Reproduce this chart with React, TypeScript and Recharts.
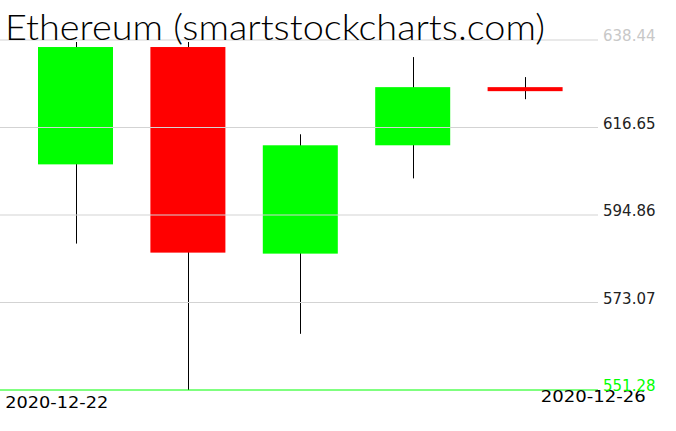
import { ComposedChart, Bar, XAxis, YAxis, ReferenceLine } from "recharts";

const dates = ["2020-12-22", "2020-12-23", "2020-12-24", "2020-12-25", "2020-12-26"];
const opens = [607.47, 636.69, 585.24, 612.22, 626.7];
const highs = [637.94, 637.94, 614.96, 634.19, 629.2];
const lows = [587.74, 551.28, 565.27, 603.98, 623.7];
const closes = [636.69, 585.49, 612.22, 626.7, 625.7];
const yTicks = [551.28, 573.07, 594.86, 616.65, 638.44];

const data = dates.map((d, i) => ({
  date: d,
  open: opens[i],
  high: highs[i],
  low: lows[i],
  close: closes[i],
  range: [lows[i], highs[i]],
}));

const W = 676;
const H = 431;

function Candle(props: any) {
  const { x, y, width, height, payload } = props;
  const top = Math.min(y, y + height);
  const h = Math.abs(height);
  const span = payload.high - payload.low;
  const k = span > 0 ? h / span : 0;
  const yOf = (v: number) => top + (payload.high - v) * k;
  const up = payload.close >= payload.open;
  const bTop = yOf(Math.max(payload.open, payload.close));
  const bBot = yOf(Math.min(payload.open, payload.close));
  const cx = Math.round(x + width / 2) + 0.5;
  return (
    <g>
      <line x1={cx} x2={cx} y1={top} y2={top + h} stroke="#000" strokeWidth={1} />
      <rect x={x} y={bTop} width={width} height={Math.max(bBot - bTop, 1)} fill={up ? "#00ff00" : "#ff0000"} />
    </g>
  );
}

function YTick(props: any) {
  const { x, y, payload, index } = props;
  const color = index === 0 ? "#00ff00" : index === yTicks.length - 1 ? "#c8c8c8" : "#222";
  return (
    <text x={x + 5} y={y + 1} fill={color} fontSize={15} fontFamily="DejaVu Sans" textAnchor="start">
      {payload.value.toFixed(2)}
    </text>
  );
}

function XTick(props: any) {
  const { x, y, payload, index } = props;
  if (index === 0) {
    return (
      <text x={x - 70} y={y + 18} fill="#000" fontSize={16} fontFamily="DejaVu Sans" textAnchor="start" textLength={103} lengthAdjust="spacingAndGlyphs">
        {payload.value}
      </text>
    );
  }
  if (index === dates.length - 1) {
    return (
      <text x={x + 121} y={y + 12} fill="#000" fontSize={16} fontFamily="DejaVu Sans" textAnchor="end" textLength={105} lengthAdjust="spacingAndGlyphs">
        {payload.value}
      </text>
    );
  }
  return <g />;
}

export default function App() {
  return (
    <div style={{ position: "absolute", left: 0, top: 0, width: W, height: H, background: "#fff" }}>
      <ComposedChart width={W} height={H} data={data} margin={{ top: 40, right: 0, bottom: 0, left: 0 }}>
        <XAxis
          dataKey="date"
          height={41}
          axisLine={false}
          tickLine={false}
          tickSize={0}
          tickMargin={0}
          padding={{ left: 19, right: 17 }}
          interval={0}
          tick={<XTick />}
        />
        <YAxis
          orientation="right"
          width={78}
          domain={[yTicks[0], yTicks[yTicks.length - 1]]}
          ticks={yTicks}
          axisLine={false}
          tickLine={false}
          tickSize={0}
          tickMargin={0}
          tick={<YTick />}
        />
        <Bar dataKey="range" barSize={75} shape={<Candle />} isAnimationActive={false} />
        {yTicks.map((t, i) => (
          <ReferenceLine key={t} y={t} stroke={i === 0 ? "#00ff00" : "#d3d3d3"} strokeWidth={1} />
        ))}
      </ComposedChart>
      <svg width={W} height={60} style={{ position: "absolute", left: 0, top: 0, pointerEvents: "none" }}>
        <text x={5} y={40} fontSize={36} fontFamily="Lato" fontWeight={300} fill="#000" textLength={540} lengthAdjust="spacingAndGlyphs">
          Ethereum (smartstockcharts.com)
        </text>
      </svg>
    </div>
  );
}
